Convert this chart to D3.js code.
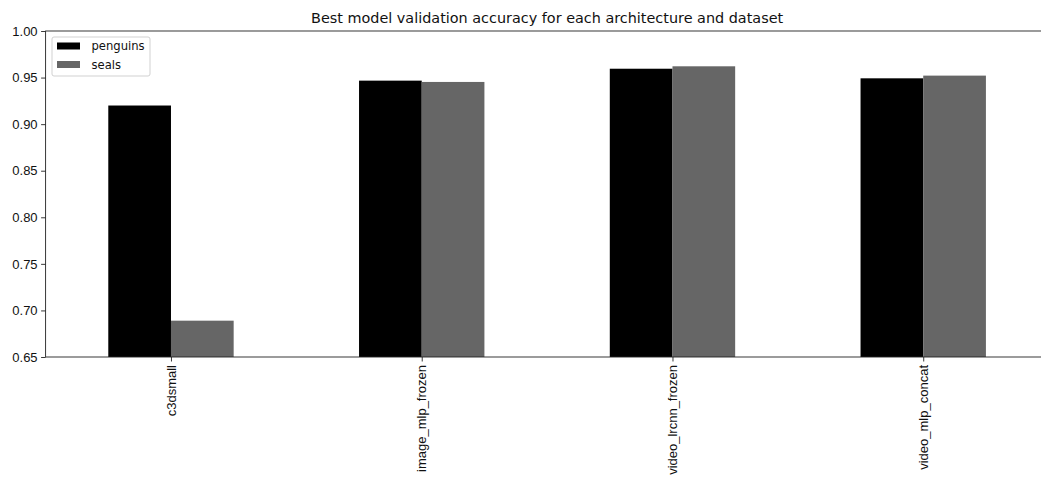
<!DOCTYPE html>
<html>
<head>
<meta charset="utf-8">
<script src="https://cdn.jsdelivr.net/npm/d3@7"></script>
<style>
  body { margin: 0; background: #fff; }
  svg { display: block; font-family: "DejaVu Sans", sans-serif; }
</style>
</head>
<body>
<svg id="chart" width="1041" height="477"></svg>
<script>
// Best validation accuracy per architecture, for each dataset
const architectures = ["c3dsmall", "image_mlp_frozen", "video_lrcnn_frozen", "video_mlp_concat"];
const penguins = [0.920, 0.9467, 0.9595, 0.9492];
const seals = [0.689, 0.9453, 0.9621, 0.9521];
const datasets = ["penguins", "seals"];
const yTicks = [0.65, 0.70, 0.75, 0.80, 0.85, 0.90, 0.95, 1.00];

const colors = { penguins: "#000000", seals: "#666666" };
const seriesValues = { penguins, seals };

const tickFont = 13;
const svg = d3.select("#chart");
const margin = { left: 45.6, top: 31, bottom: 357 };
const plotRight = 1048.6;

// Category positions like a pandas bar plot: xlim -0.5..n-0.5
const x = d3.scaleLinear()
  .domain([-0.5, architectures.length - 0.5])
  .range([margin.left, plotRight]);
const y = d3.scaleLinear().domain([0.65, 1.00]).range([margin.bottom, margin.top]);
const barW = 0.25;

// bars
datasets.forEach((ds, si) => {
  svg.append("g").selectAll("rect")
    .data(seriesValues[ds])
    .join("rect")
    .attr("x", (d, i) => x(i - barW + si * barW))
    .attr("width", x(barW) - x(0))
    .attr("y", d => y(d))
    .attr("height", d => y(0.65) - y(d))
    .attr("fill", colors[ds]);
});

// axes
const yAxis = d3.axisLeft(y).tickValues(yTicks).tickFormat(d3.format(".2f")).tickSize(4.5).tickPadding(3.5);
const gy = svg.append("g").attr("transform", `translate(${margin.left},0)`).call(yAxis);
gy.select(".domain").remove();
gy.selectAll("line").attr("stroke", "#222").attr("stroke-width", 0.9);
gy.selectAll("text").attr("font-size", tickFont).attr("fill", "#111");

const xAxis = d3.axisBottom(x).tickValues(d3.range(architectures.length))
  .tickFormat(i => architectures[i]).tickSize(4.5).tickPadding(3.5);
const gx = svg.append("g").attr("transform", `translate(0,${margin.bottom})`).call(xAxis);
gx.select(".domain").remove();
gx.selectAll("line").attr("stroke", "#222").attr("stroke-width", 0.9);
gx.selectAll("text")
  .attr("font-size", tickFont).attr("fill", "#111")
  .attr("transform", "rotate(-90)")
  .attr("text-anchor", "end")
  .attr("dy", "0.32em")
  .attr("x", -8)
  .attr("y", 0);

// spines
const spine = svg.append("g").attr("stroke", "#222").attr("stroke-width", 0.9).attr("fill", "none");
spine.append("rect")
  .attr("x", margin.left).attr("y", margin.top)
  .attr("width", plotRight - margin.left).attr("height", margin.bottom - margin.top);

// title
svg.append("text")
  .attr("x", (margin.left + plotRight) / 2)
  .attr("y", 22.5)
  .attr("text-anchor", "middle")
  .attr("font-size", 14.4)
  .attr("fill", "#111")
  .text("Best model validation accuracy for each architecture and dataset");

// legend
const lg = svg.append("g").attr("transform", "translate(52,37)");
lg.append("rect").attr("width", 98).attr("height", 39).attr("rx", 2)
  .attr("fill", "#fff").attr("fill-opacity", 0.8).attr("stroke", "#ccc").attr("stroke-width", 0.9);
datasets.forEach((ds, i) => {
  const row = lg.append("g").attr("transform", `translate(0,${5.5 + i * 18.5})`);
  row.append("rect").attr("x", 5).attr("width", 23).attr("height", 7).attr("fill", colors[ds]);
  row.append("text").attr("x", 39.5).attr("y", 3.5).attr("dy", "0.35em")
    .attr("font-size", 11.6).attr("fill", "#111").text(ds);
});
</script>
</body>
</html>
